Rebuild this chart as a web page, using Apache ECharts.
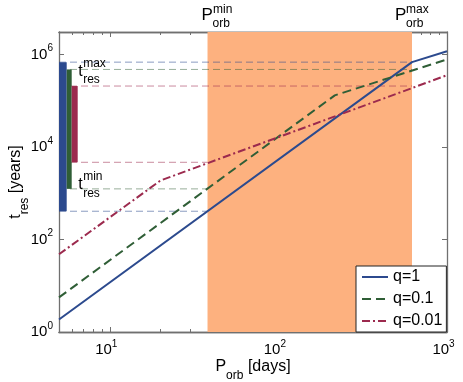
<!DOCTYPE html>
<html>
<head>
<meta charset="utf-8">
<script src="https://cdn.jsdelivr.net/npm/echarts@6/dist/echarts.min.js"></script>
<style>
  html, body { margin: 0; padding: 0; background: #fff; }
  #chart { width: 463px; height: 382px; }
</style>
</head>
<body>
<div id="chart"></div>
<script>
// residence time vs orbital period, log-log
const seriesNames = ['q=1', 'q=0.1', 'q=0.01'];
const periodQ1 = [5, 620, 1000];
const tresQ1 = [1.86, 6.9e5, 1.19e6];
const periodQ01 = [5, 216, 1000];
const tresQ01 = [5.6, 1.32e5, 7.9e5];
const periodQ001 = [5, 20, 1000];
const tresQ001 = [48, 1900, 3.6e5];

const pOrbMin = 38;
const pOrbMax = 620;
const tresMax = [6.9e5, 4.8e5, 2.1e5];
const tresMin = [410, 1250, 4700];

const xMajorTicks = [10, 100, 1000];
const xMinorTicks = [6, 7, 8, 9, 20, 30, 40, 50, 60, 70, 80, 90, 200, 300, 400, 500, 600, 700, 800, 900];
const yTicks = [1, 100, 10000, 1000000];

const xMin = 5, xMax = 1000, yMin = 1, yMax = 3.1e6;

const FONT = '"Liberation Sans", Arial, Helvetica, sans-serif';
const lineColors = ['#2c4a8e', '#2f5e36', '#9c2a4e'];
const refColors = ['rgba(44,74,142,0.55)', 'rgba(47,94,54,0.5)', 'rgba(156,42,78,0.55)'];
const axisGray = '#707070';

const chart = echarts.init(document.getElementById('chart'));

const zip = (xs, ys) => xs.map((x, i) => [x, ys[i]]);
const expLabel = v => '{b|10}{s|' + Math.round(Math.log10(v)) + '}';
const labelRich = {
  b: { fontSize: 15, lineHeight: 22, fontFamily: FONT, color: '#000' },
  s: { fontSize: 10, lineHeight: 12, fontFamily: FONT, color: '#000', verticalAlign: 'top' }
};

function xAxisDef(position, ticks, len, showLabel) {
  return {
    type: 'log', logBase: 10, min: xMin, max: xMax, position: position,
    axisLine: { show: true, onZero: false, lineStyle: { color: axisGray, width: 1.3 } },
    axisTick: { show: true, inside: true, length: len, customValues: ticks, lineStyle: { color: axisGray, width: 1 } },
    axisLabel: showLabel ? {
      show: true, customValues: ticks, margin: 7, padding: [0, 7, 0, 0], formatter: expLabel, rich: labelRich
    } : { show: false },
    splitLine: { show: false },
    minorTick: { show: false }
  };
}

const refSeries = [];
for (let i = 0; i < 3; i++) {
  refSeries.push({
    type: 'line', name: 'max' + i, silent: true, symbol: 'none', z: 2,
    data: [[xMin, tresMax[i]], [pOrbMax, tresMax[i]]],
    lineStyle: { color: refColors[i], width: 1, type: [7, 4] }
  });
  refSeries.push({
    type: 'line', name: 'min' + i, silent: true, symbol: 'none', z: 2,
    data: [[xMin, tresMin[i]], [pOrbMin, tresMin[i]]],
    lineStyle: { color: refColors[i], width: 1, type: [7, 4] }
  });
}

const option = {
  animation: false,
  backgroundColor: '#fff',
  grid: { left: 59, top: 32, right: 16, bottom: 50, containLabel: false, outerBoundsMode: 'none' },
  legend: {
    data: seriesNames,
    orient: 'vertical',
    left: 356, top: 266,
    itemWidth: 26, itemHeight: 14, itemGap: 6,
    padding: [3, 4, 3, 5],
    backgroundColor: '#fff',
    borderColor: '#222', borderWidth: 1, borderRadius: 0,
    itemStyle: { opacity: 0 },
    textStyle: { fontSize: 16, fontFamily: FONT, color: '#000' }
  },
  xAxis: [
    Object.assign(xAxisDef('bottom', xMajorTicks, 5, true), {
      name: '{b|P}{sub|orb}{b| [days]}',
      nameLocation: 'middle', nameGap: 20, nameMoveOverlap: false,
      nameTextStyle: {
        rich: {
          b: { fontSize: 16, lineHeight: 30, fontFamily: FONT, color: '#000' },
          sub: { fontSize: 12, lineHeight: 12, fontFamily: FONT, color: '#000', verticalAlign: 'bottom' }
        }
      }
    }),
    xAxisDef('bottom', xMinorTicks, 3, false),
    xAxisDef('top', xMajorTicks, 5, false),
    xAxisDef('top', xMinorTicks, 3, false)
  ],
  yAxis: [
    {
      type: 'log', logBase: 10, min: yMin, max: yMax, position: 'left',
      axisLine: { show: true, onZero: false, lineStyle: { color: axisGray, width: 1.3 } },
      axisTick: { show: true, inside: true, length: 5, customValues: yTicks, lineStyle: { color: axisGray } },
      axisLabel: { show: true, customValues: yTicks, margin: 6, formatter: expLabel, rich: labelRich },
      splitLine: { show: false },
      name: '{b|t}{sub|res}{b| [years]}',
      nameLocation: 'middle', nameGap: 28, nameRotate: 90, nameMoveOverlap: false,
      nameTextStyle: {
        rich: {
          b: { fontSize: 16, lineHeight: 30, fontFamily: FONT, color: '#000' },
          sub: { fontSize: 12, lineHeight: 12, fontFamily: FONT, color: '#000', verticalAlign: 'bottom' }
        }
      }
    },
    {
      type: 'log', logBase: 10, min: yMin, max: yMax, position: 'right',
      axisLine: { show: true, onZero: false, lineStyle: { color: axisGray, width: 1.3 } },
      axisTick: { show: true, inside: true, length: 5, customValues: yTicks, lineStyle: { color: axisGray } },
      axisLabel: { show: false },
      splitLine: { show: false }
    }
  ],
  series: refSeries.concat([
    {
      type: 'line', name: seriesNames[0], symbol: 'none', z: 3,
      data: zip(periodQ1, tresQ1),
      lineStyle: { color: lineColors[0], width: 2 },
      itemStyle: { color: lineColors[0] },
      markArea: {
        silent: true, z: 1,
        itemStyle: { color: '#fdb17f' },
        data: [[{ xAxis: pOrbMin }, { xAxis: pOrbMax }]]
      }
    },
    {
      type: 'line', name: seriesNames[1], symbol: 'none', z: 3,
      data: zip(periodQ01, tresQ01),
      lineStyle: { color: lineColors[1], width: 2, type: [9, 5] },
      itemStyle: { color: lineColors[1] }
    },
    {
      type: 'line', name: seriesNames[2], symbol: 'none', z: 3,
      data: zip(periodQ001, tresQ001),
      lineStyle: { color: lineColors[2], width: 2, type: [8, 3, 2, 3] },
      itemStyle: { color: lineColors[2] }
    },
    {
      // t_res ranges as vertical bars at the left edge
      type: 'custom', name: 'ranges', z: 4, silent: true,
      encode: { x: 0, y: [1, 2] },
      data: tresMin.map((v, i) => [xMin, v, tresMax[i], i]),
      renderItem: function (params, api) {
        const i = api.value(3);
        const top = api.coord([api.value(0), api.value(2)]);
        const bot = api.coord([api.value(0), api.value(1)]);
        const offs = [0, 7.7, 12.7], widths = [7.7, 5, 6];
        return {
          type: 'rect',
          shape: { x: top[0] + offs[i], y: top[1], width: widths[i], height: bot[1] - top[1] },
          style: { fill: lineColors[i] }
        };
      }
    }
  ])
};

chart.setOption(option);

// annotation labels placed from the axis scales
const px = (x, y) => chart.convertToPixel({ xAxisIndex: 0, yAxisIndex: 0 }, [x, y]);
const plotTop = px(xMin, yMax)[1];
const barRight = px(xMin, 1)[0] + 18.7;
const pMinX = px(pOrbMin, 1)[0];
const pMaxX = px(pOrbMax, 1)[0];
const yMaxG = px(xMin, tresMax[1])[1];
const yMinG = px(xMin, tresMin[1])[1];

function txt(s, x, y, size) {
  return {
    type: 'text', x: x, y: y, silent: true, z: 10,
    style: { text: s, font: size + 'px ' + FONT, fill: '#000', align: 'left', verticalAlign: 'middle' }
  };
}

chart.setOption({
  graphic: [
    txt('P', pMinX - 6, plotTop - 17, 17),
    txt('min', pMinX + 5.5, plotTop - 22, 12),
    txt('orb', pMinX + 5, plotTop - 8, 12),
    txt('P', pMaxX - 17, plotTop - 17, 17),
    txt('max', pMaxX - 6, plotTop - 22, 12),
    txt('orb', pMaxX - 6, plotTop - 8, 12),
    txt('t', barRight + 0.5, yMaxG + 2, 16),
    txt('max', barRight + 5.5, yMaxG - 6, 12),
    txt('res', barRight + 5.5, yMaxG + 10, 12),
    txt('t', barRight + 0.5, yMinG - 4.5, 16),
    txt('min', barRight + 5.5, yMinG - 12.5, 12),
    txt('res', barRight + 5.5, yMinG + 5, 12)
  ]
});
</script>
</body>
</html>
